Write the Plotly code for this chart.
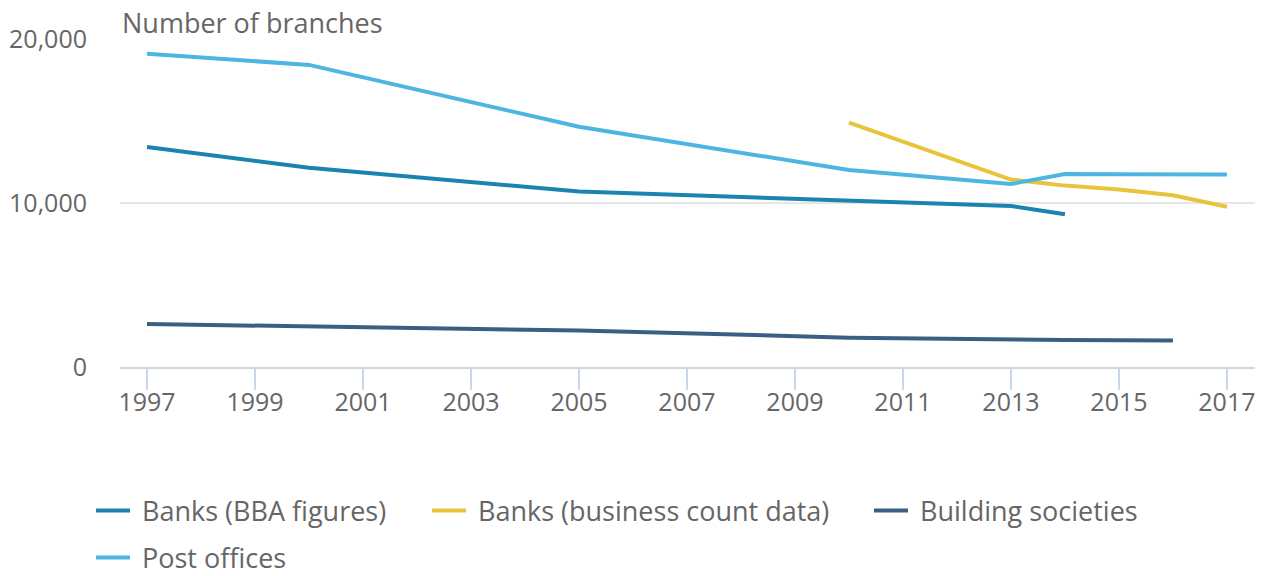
import plotly.graph_objects as go

# ---- data ----
years_bba = [1997, 2000, 2005, 2010, 2013, 2014]
banks_bba = [13420, 12150, 10700, 10150, 9820, 9310]

years_bcd = [2010, 2013, 2014, 2015, 2016, 2017]
banks_bcd = [14900, 11430, 11060, 10830, 10470, 9770]

years_bs = [1997, 2000, 2005, 2010, 2013, 2014, 2015, 2016]
building_soc = [2620, 2470, 2230, 1790, 1650, 1650, 1630, 1610]

years_po = [1997, 2000, 2005, 2010, 2013, 2014, 2015, 2016, 2017]
post_offices = [19100, 18420, 14650, 12010, 11160, 11770, 11750, 11740, 11740]

x_ticks = list(range(1997, 2018, 2))
y_ticks = [0, 10000, 20000]
y_tick_labels = ["0", "10,000", "20,000"]

FONT = "Open Sans"
GRAY = "#666666"

series = [
    ("Banks (BBA figures)", years_bba, banks_bba, "#1a84ae", "legend"),
    ("Banks (business count data)", years_bcd, banks_bcd, "#e8c43a", "legend2"),
    ("Building societies", years_bs, building_soc, "#3a5f82", "legend3"),
    ("Post offices", years_po, post_offices, "#4db6e0", "legend4"),
]

fig = go.Figure()
for name, xs, ys, col, lg in series:
    fig.add_trace(go.Scatter(
        x=xs, y=ys, name="\u00a0" + name, mode="lines",
        line=dict(color=col, width=4, shape="linear"),
        legend=lg, hovertemplate=name + ": %{y:,}<extra>%{x}</extra>",
    ))

legend_common = dict(
    orientation="h", xanchor="left", yanchor="middle",
    font=dict(family=FONT, size=27, color=GRAY),
    bgcolor="rgba(0,0,0,0)", borderwidth=0, itemwidth=34,
)

FW, FH = 1265, 576
L, R, T, B = 120, 10, 39, 209
W = FW - L - R
H = FH - T - B

def px_x(px):
    return (px - L) / W

def px_y(py):
    return (FH - B - py) / H

fig.update_layout(
    width=FW, height=FH,
    margin=dict(l=L, r=R, t=T, b=B, autoexpand=False),
    paper_bgcolor="white", plot_bgcolor="white",
    font=dict(family=FONT, size=24, color=GRAY),
    showlegend=True,
    legend=dict(x=px_x(91), y=px_y(511), **legend_common),
    legend2=dict(x=px_x(427), y=px_y(511), **legend_common),
    legend3=dict(x=px_x(869), y=px_y(511), **legend_common),
    legend4=dict(x=px_x(91), y=px_y(558), **legend_common),
    xaxis=dict(
        range=[1996.5, 2017.52], tickvals=x_ticks,
        ticktext=[str(v) for v in x_ticks],
        showgrid=False, zeroline=False,
        showline=True, linecolor="#ccd6eb", linewidth=2,
        ticks="outside", ticklen=21, tickcolor="#ccd6eb", tickwidth=2,
        ticklabelstandoff=-9,
        tickfont=dict(family=FONT, size=25, color=GRAY),
        fixedrange=True,
    ),
    yaxis=dict(
        range=[0, 20000], tickvals=y_ticks, ticktext=y_tick_labels,
        showgrid=True, gridcolor="#e6e6e6", gridwidth=2,
        zeroline=False, showline=False,
        ticks="", ticklabelstandoff=32,
        tickfont=dict(family=FONT, size=25, color=GRAY),
        fixedrange=True,
    ),
    annotations=[dict(
        text="Number of branches", xref="paper", yref="paper",
        x=0, y=1, xanchor="left", yanchor="middle", yshift=17, xshift=0,
        showarrow=False, font=dict(family=FONT, size=27, color=GRAY),
    )],
)

fig.write_html(
    "out.html",
    config={"displayModeBar": False},
    post_script="document.body.style.margin='0';document.body.style.overflow='hidden';",
)
